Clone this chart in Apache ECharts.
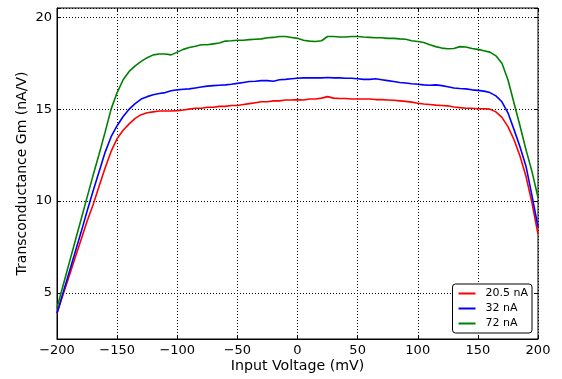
<!DOCTYPE html>
<html>
<head>
<meta charset="utf-8">
<script src="https://cdn.jsdelivr.net/npm/echarts@6.0.0/dist/echarts.min.js"></script>
<style>
  html, body { margin: 0; padding: 0; background: #fff; }
  #chart { width: 562px; height: 379px; }
</style>
</head>
<body>
<div id="chart"></div>
<script>
// input voltage, mV (step 5)
var voltage = [];
for (var v = -200; v <= 200; v += 5) voltage.push(v);

var xTicks = [-200, -150, -100, -50, 0, 50, 100, 150, 200];
var yTicks = [5, 10, 15, 20];

var seriesNames = ['20.5 nA', '32 nA', '72 nA'];

var gm205 = [3.9, 4.9, 5.9, 6.9, 7.9, 8.9, 9.8, 10.8, 11.8, 12.7,
  13.4, 13.85, 14.2, 14.5, 14.7, 14.8, 14.85, 14.9, 14.9, 14.9,
  14.92, 14.95, 15.0, 15.05, 15.05, 15.1, 15.1, 15.15, 15.15, 15.2,
  15.2, 15.25, 15.3, 15.35, 15.4, 15.4, 15.45, 15.45, 15.5, 15.5,
  15.52, 15.5, 15.55, 15.55, 15.6, 15.68, 15.6, 15.58, 15.58, 15.55,
  15.55, 15.55, 15.55, 15.52, 15.52, 15.5, 15.48, 15.45, 15.42, 15.38,
  15.32, 15.28, 15.25, 15.22, 15.2, 15.18, 15.12, 15.08, 15.05, 15.05,
  15.02, 15.02, 15.0, 14.85, 14.55, 14.05, 13.35, 12.45, 11.35, 9.9, 8.2];

var gm32 = [3.9, 5.0, 6.1, 7.2, 8.3, 9.45, 10.55, 11.6, 12.65, 13.5,
  14.1, 14.6, 15.0, 15.3, 15.55, 15.68, 15.78, 15.85, 15.9, 16.0,
  16.05, 16.08, 16.1, 16.15, 16.2, 16.25, 16.28, 16.3, 16.32, 16.35,
  16.4, 16.45, 16.5, 16.52, 16.55, 16.55, 16.52, 16.6, 16.62, 16.65,
  16.68, 16.7, 16.7, 16.7, 16.7, 16.72, 16.7, 16.7, 16.68, 16.68,
  16.65, 16.62, 16.62, 16.65, 16.6, 16.55, 16.5, 16.45, 16.42, 16.38,
  16.35, 16.32, 16.3, 16.32, 16.28, 16.22, 16.15, 16.12, 16.1, 16.05,
  16.02, 15.98, 15.9, 15.72, 15.4, 14.8, 13.9, 12.95, 11.9, 10.3, 8.6];

var gm72 = [4.2, 5.4, 6.6, 7.8, 9.0, 10.2, 11.4, 12.55, 13.75, 15.0,
  15.9, 16.6, 17.05, 17.35, 17.6, 17.8, 17.95, 18.0, 18.0, 17.95,
  18.1, 18.25, 18.35, 18.42, 18.5, 18.5, 18.55, 18.6, 18.7, 18.72,
  18.75, 18.75, 18.78, 18.8, 18.82, 18.88, 18.9, 18.95, 18.95, 18.9,
  18.85, 18.75, 18.7, 18.68, 18.72, 18.95, 18.95, 18.92, 18.92, 18.95,
  18.95, 18.92, 18.9, 18.88, 18.88, 18.85, 18.85, 18.82, 18.8, 18.72,
  18.68, 18.62, 18.5, 18.4, 18.32, 18.28, 18.3, 18.4, 18.38, 18.3,
  18.25, 18.18, 18.1, 17.9, 17.5, 16.6, 15.35, 14.1, 12.8, 11.6, 10.2];

var colors = ['#ff0000', '#0000ff', '#008000'];
var font = 'DejaVu Sans';

function pairs(ys) {
  return voltage.map(function (x, i) { return [x, ys[i]]; });
}
function minusFmt(v) {
  return v < 0 ? '\u2212' + (-v) : String(v);
}

var dotted = { color: '#000', width: 1, type: [1, 2] };
var tick = { show: true, inside: true, length: 4, lineStyle: { color: '#000' } };

var chart = echarts.init(document.getElementById('chart'));
chart.setOption({
  animation: false,
  backgroundColor: '#fff',
  color: colors,
  grid: { left: 57, right: 24, top: 8, bottom: 40, show: true, borderColor: '#000', borderWidth: 1 },
  legend: {
    data: seriesNames,
    orient: 'vertical',
    right: 30,
    top: 284,
    icon: 'rect',
    itemWidth: 17,
    itemHeight: 2,
    itemGap: 0,
    padding: [2, 4, 2, 6],
    borderColor: '#000',
    borderWidth: 1,
    borderRadius: 3,
    backgroundColor: '#fff',
    textStyle: { fontFamily: font, fontSize: 11, color: '#000', lineHeight: 15, padding: [0, 0, 0, 5] }
  },
  xAxis: [{
    type: 'value',
    min: -200, max: 200, interval: 50,
    name: 'Input Voltage (mV)',
    nameLocation: 'middle',
    nameGap: 20,
    nameMoveOverlap: false,
    nameTextStyle: { fontFamily: font, fontSize: 14.2, color: '#000' },
    axisLine: { show: true, onZero: false, lineStyle: { color: '#000' } },
    axisTick: tick,
    axisLabel: { fontFamily: font, fontSize: 13, color: '#000', margin: 5, formatter: minusFmt },
    splitLine: { show: true, lineStyle: dotted }
  }, {
    type: 'value', position: 'top',
    min: -200, max: 200, interval: 50,
    axisLine: { show: false, onZero: false },
    axisTick: tick,
    axisLabel: { show: false },
    splitLine: { show: false }
  }],
  yAxis: [{
    type: 'value',
    min: 2.5, max: 20.5, splitNumber: 4,
    name: 'Transconductance Gm (nA/V)',
    nameLocation: 'middle',
    nameGap: 28,
    nameMoveOverlap: false,
    nameTextStyle: { fontFamily: font, fontSize: 14, color: '#000' },
    axisLine: { show: true, onZero: false, lineStyle: { color: '#000' } },
    axisTick: tick,
    axisLabel: {
      fontFamily: font, fontSize: 13, color: '#000', margin: 5,
      formatter: function (v) { return yTicks.indexOf(v) >= 0 ? String(v) : ''; }
    },
    splitLine: { show: true, lineStyle: dotted }
  }, {
    type: 'value', position: 'right',
    min: 2.5, max: 20.5, splitNumber: 4,
    axisLine: { show: false, onZero: false },
    axisTick: tick,
    axisLabel: { show: false },
    splitLine: { show: false }
  }],
  series: [
    { name: seriesNames[0], type: 'line', data: pairs(gm205), showSymbol: false, symbol: 'none', lineStyle: { width: 1.6 }, z: 3 },
    { name: seriesNames[1], type: 'line', data: pairs(gm32), showSymbol: false, symbol: 'none', lineStyle: { width: 1.6 }, z: 3 },
    { name: seriesNames[2], type: 'line', data: pairs(gm72), showSymbol: false, symbol: 'none', lineStyle: { width: 1.6 }, z: 3 }
  ]
});
</script>
</body>
</html>
